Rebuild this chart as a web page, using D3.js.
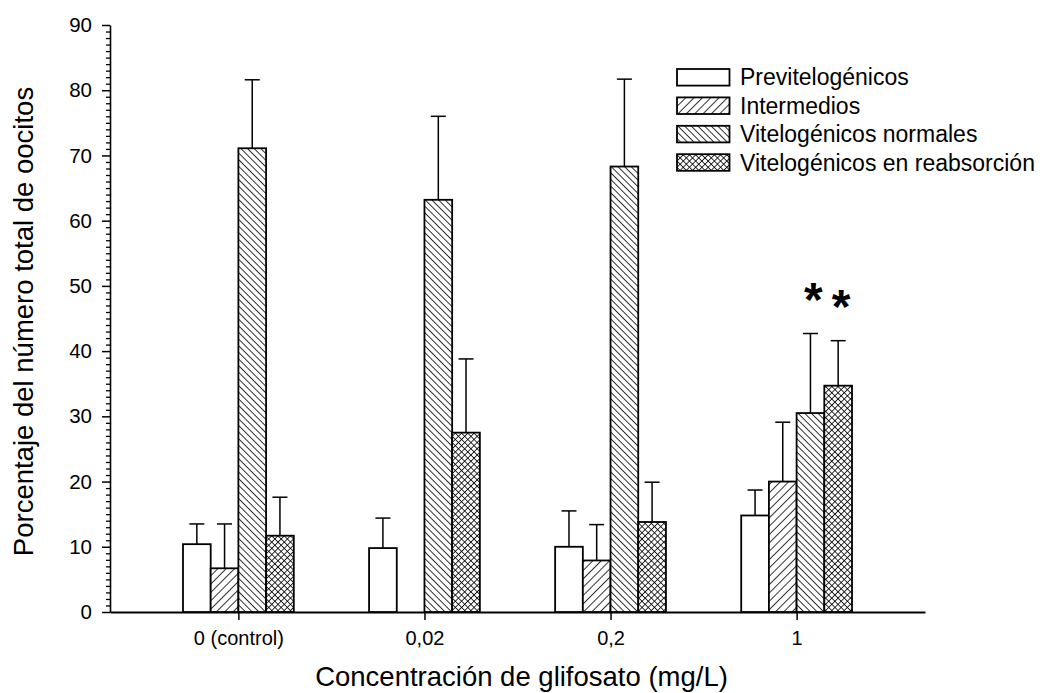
<!DOCTYPE html>
<html>
<head>
<meta charset="utf-8">
<script src="https://cdn.jsdelivr.net/npm/d3@7"></script>
<style>
    body { margin: 0; background: #fff; }
</style>
</head>
<body>
<div id="chart"></div>
<script>
// Data
const groups = ["0 (control)", "0,02", "0,2", "1"];
const seriesNames = ["Previtelogénicos", "Intermedios", "Vitelogénicos normales", "Vitelogénicos en reabsorción"];
const previtelogenicos = [10.4, 9.8, 10.0, 14.8];
const previtelogenicosErr = [3.1, 4.6, 5.5, 3.9];
const intermedios = [6.7, null, 7.9, 20.0];
const intermediosErr = [6.8, null, 5.5, 9.1];
const vitNormales = [71.1, 63.2, 68.3, 30.5];
const vitNormalesErr = [10.5, 12.8, 13.4, 12.2];
const vitReabsorcion = [11.7, 27.5, 13.8, 34.7];
const vitReabsorcionErr = [5.9, 11.3, 6.1, 6.9];
const significant = [{ group: "1", series: 2 }, { group: "1", series: 3 }];
const yTicks = [0, 10, 20, 30, 40, 50, 60, 70, 80, 90];

class Chart {
    constructor() {
        const attrs = {
            container: "#chart",
            svgWidth: 1040,
            svgHeight: 693,
            marginTop: 25,
            marginLeft: 110,
            marginRight: 115,
            marginBottom: 81,
            defaultFont: "'Liberation Sans', Arial, sans-serif",
            barWidth: 27.7
        };
        this.getState = () => attrs;
        this.setState = (d) => Object.assign(attrs, d);
        this.initializeEnterExitUpdatePattern();
    }

    render() {
        this.calculateProperties();
        this.drawSvgAndWrappers();
        this.drawPatterns();
        this.drawAxes();
        this.drawBars();
        this.drawLegend();
        return this;
    }

    calculateProperties() {
        const { svgWidth, svgHeight, marginTop, marginLeft, marginRight, marginBottom } = this.getState();
        const chartWidth = svgWidth - marginLeft - marginRight;
        const chartHeight = svgHeight - marginTop - marginBottom;

        const x = d3.scalePoint().domain(groups).range([0, chartWidth]).padding(0.69);
        const y = d3.scaleLinear().domain([0, 90]).range([chartHeight, 0]);

        const values = [previtelogenicos, intermedios, vitNormales, vitReabsorcion];
        const errs = [previtelogenicosErr, intermediosErr, vitNormalesErr, vitReabsorcionErr];
        const data = [];
        groups.forEach((g, gi) => {
            seriesNames.forEach((s, si) => {
                if (values[si][gi] == null) return;
                data.push({ id: g + "-" + si, group: g, series: si, value: values[si][gi], err: errs[si][gi] });
            });
        });

        this.setState({ chartWidth, chartHeight, x, y, data });
    }

    drawSvgAndWrappers() {
        const { container, svgWidth, svgHeight, defaultFont, marginLeft, marginTop } = this.getState();
        const svg = d3.select(container)._add({ tag: "svg", className: "svg-chart-container" })
            .attr("width", svgWidth)
            .attr("height", svgHeight)
            .attr("font-family", defaultFont);

        const chart = svg._add({ tag: "g", className: "chart" })
            .attr("transform", `translate(${marginLeft},${marginTop})`);

        this.setState({ svg, chart });
    }

    drawPatterns() {
        const { svg } = this.getState();
        const defs = svg._add({ tag: "defs", className: "defs" });

        // line spacing, rotation, crossed or not
        const patterns = [
            { id: "hatch-int", size: 5.9, angle: 45, cross: false, width: 1.6 },
            { id: "hatch-vn", size: 4.7, angle: -45, cross: false, width: 1.6 },
            { id: "hatch-reab", size: 4.4, angle: 45, cross: true, width: 1.6 }
        ];
        const pat = defs._add({ tag: "pattern", className: "hatch", data: patterns })
            .attr("id", d => d.id)
            .attr("patternUnits", "userSpaceOnUse")
            .attr("width", d => d.size)
            .attr("height", d => d.size)
            .attr("patternTransform", d => `rotate(${d.angle})`);
        pat.selectAll("*").remove();
        pat.append("rect").attr("width", d => d.size).attr("height", d => d.size).attr("fill", "#fff");
        pat.append("line")
            .attr("x1", 0).attr("y1", 0).attr("x2", 0).attr("y2", d => d.size)
            .attr("stroke", "#000").attr("stroke-width", d => d.width);
        pat.filter(d => d.cross).append("line")
            .attr("x1", 0).attr("y1", 0).attr("x2", d => d.size).attr("y2", 0)
            .attr("stroke", "#000").attr("stroke-width", d => d.width);
    }

    fillFor(i) {
        return ["#fff", "url(#hatch-int)", "url(#hatch-vn)", "url(#hatch-reab)"][i];
    }

    drawAxes() {
        const { chart, x, y, chartHeight } = this.getState();

        const minor = d3.range(0, 91, 1).filter(d => d % 10 !== 0);
        chart._add({ tag: "g", className: "y-minor" })
            .call(d3.axisLeft(y).tickValues(minor).tickSize(4).tickFormat(""))
            .call(g => g.select(".domain").remove())
            .selectAll("line").attr("stroke-width", 1.3);

        const yAxis = chart._add({ tag: "g", className: "y-axis" })
            .call(d3.axisLeft(y).tickValues(yTicks).tickSize(8).tickSizeOuter(0).tickPadding(10));
        yAxis.select(".domain").attr("stroke-width", 1.6);
        yAxis.selectAll("line").attr("stroke-width", 1.5);
        yAxis.selectAll("text").attr("font-size", 20.5).attr("fill", "#000");

        const xAxis = chart._add({ tag: "g", className: "x-axis" })
            .attr("transform", `translate(0,${chartHeight})`)
            .call(d3.axisBottom(x).tickSize(8).tickSizeOuter(0).tickPadding(11));
        xAxis.select(".domain").attr("stroke-width", 2);
        xAxis.selectAll("line").attr("stroke-width", 1.5);
        xAxis.selectAll("text").attr("font-size", 20).attr("fill", "#000");

        chart._add({ tag: "text", className: "x-title" })
            .attr("x", (x(groups[0]) + x(groups[3])) / 2 + 4)
            .attr("y", chartHeight + 74)
            .attr("text-anchor", "middle")
            .attr("font-size", 27.5)
            .text("Concentración de glifosato (mg/L)");

        chart._add({ tag: "text", className: "y-title" })
            .attr("transform", `translate(-77,${chartHeight / 2 + 3}) rotate(-90)`)
            .attr("text-anchor", "middle")
            .attr("font-size", 27.5)
            .text("Porcentaje del número total de oocitos");
    }

    drawBars() {
        const { chart, x, y, data, barWidth, chartHeight } = this.getState();
        const barX = d => x(d.group) - 2 * barWidth + d.series * barWidth;

        chart._add({ tag: "line", className: "err-line", data })
            .attr("x1", d => barX(d) + barWidth / 2)
            .attr("x2", d => barX(d) + barWidth / 2)
            .attr("y1", d => y(d.value))
            .attr("y2", d => y(d.value + d.err))
            .attr("stroke", "#000").attr("stroke-width", 1.5);

        chart._add({ tag: "line", className: "err-cap", data })
            .attr("x1", d => barX(d) + barWidth / 2 - 7.5)
            .attr("x2", d => barX(d) + barWidth / 2 + 7.5)
            .attr("y1", d => y(d.value + d.err))
            .attr("y2", d => y(d.value + d.err))
            .attr("stroke", "#000").attr("stroke-width", 1.5);

        chart._add({ tag: "rect", className: "bar", data })
            .attr("x", d => barX(d))
            .attr("y", d => y(d.value))
            .attr("width", barWidth)
            .attr("height", d => chartHeight - y(d.value))
            .attr("fill", d => this.fillFor(d.series))
            .attr("stroke", "#000")
            .attr("stroke-width", 1.8);

        // significance marks above the error bars
        const stars = significant.map(s => data.find(d => d.group === s.group && d.series === s.series));
        chart._add({ tag: "text", className: "star", data: stars })
            .attr("x", d => barX(d) + barWidth / 2 + 3)
            .attr("y", d => y(d.value + d.err) - 18)
            .attr("text-anchor", "middle")
            .attr("font-size", 48)
            .attr("font-weight", "bold")
            .text("*");
    }

    drawLegend() {
        const { svg } = this.getState();
        const legend = svg._add({ tag: "g", className: "legend" })
            .attr("transform", "translate(677,69)");
        const rows = legend._add({ tag: "g", className: "legend-row", data: seriesNames })
            .attr("transform", (d, i) => `translate(0,${i * 28.4})`);
        rows.selectAll("*").remove();
        rows.append("rect")
            .attr("width", 52.5).attr("height", 16.6)
            .attr("fill", (d, i) => this.fillFor(i))
            .attr("stroke", "#000").attr("stroke-width", 1.8);
        rows.append("text")
            .attr("x", 63).attr("y", 8.3).attr("dy", "0.35em")
            .attr("font-size", 23)
            .text(d => d);
    }

    initializeEnterExitUpdatePattern() {
        d3.selection.prototype._add = function (params) {
            const container = this;
            const className = params.className;
            const data = params.data || [className];
            let selection = container.selectAll("." + className).data(data, (d, i) => (d && d.id) ? d.id : i);
            selection.exit().remove();
            selection = selection.enter().append(params.tag).merge(selection);
            selection.attr("class", className);
            return selection;
        };
    }
}

new Chart().render();
</script>
</body>
</html>
